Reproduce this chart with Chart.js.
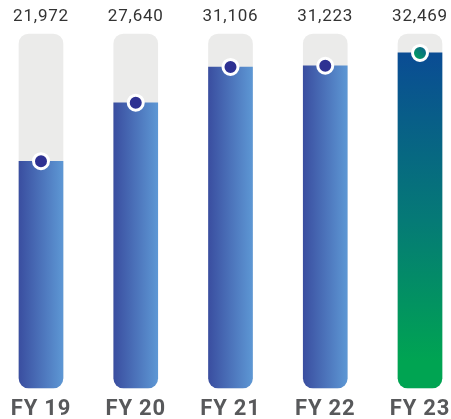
<!DOCTYPE html>
<html>
<head>
<meta charset="utf-8">
<script src="https://cdn.jsdelivr.net/npm/chart.js@4/dist/chart.umd.min.js"></script>
<style>
  html, body { margin: 0; padding: 0; background: #ffffff; }
  #wrap { width: 451px; height: 419px; }
</style>
</head>
<body>
<div id="wrap"><canvas id="c" width="451" height="419"></canvas></div>
<script>
const categories = ['FY 19', 'FY 20', 'FY 21', 'FY 22', 'FY 23'];
const values = [21972, 27640, 31106, 31223, 32469];
const valueLabels = ['21,972', '27,640', '31,106', '31,223', '32,469'];
const trackMax = 34300;
const trackValues = categories.map(() => trackMax);

function ok() { for (const a of arguments) { if (!Number.isFinite(a)) return false; } return true; }

function barColor(ctx) {
  const chart = ctx.chart;
  const c = chart.ctx;
  const xs = chart.scales.x;
  const ys = chart.scales.y;
  const i = ctx.dataIndex;
  if (!xs || !ys || i === undefined) return '#4a72bb';
  const cx = xs.getPixelForValue(i);
  if (i === values.length - 1) {
    const top = ys.getPixelForValue(values[i]);
    const bottom = ys.getPixelForValue(0);
    if (!ok(top, bottom) || top === bottom) return '#057a76';
    const g = c.createLinearGradient(0, top, 0, bottom);
    g.addColorStop(0, '#0a4c94');
    g.addColorStop(0.5, '#057a76');
    g.addColorStop(0.92, '#00a452');
    g.addColorStop(1, '#00a452');
    return g;
  }
  if (!ok(cx)) return '#4a72bb';
  const g = c.createLinearGradient(cx - 22, 0, cx + 22, 0);
  g.addColorStop(0, '#3a4ea0');
  g.addColorStop(1, '#5d97d4');
  return g;
}

function dotColor(ctx) {
  const chart = ctx.chart;
  const i = ctx.dataIndex;
  if (i === values.length - 1) {
    if (!chart.scales.x || !chart.scales.y) return '#057a76';
    const cx = chart.scales.x.getPixelForValue(i);
    const cy = chart.scales.y.getPixelForValue(values[i]);
    if (!ok(cx, cy)) return '#057a76';
    const g = chart.ctx.createLinearGradient(cx - 6, cy + 6, cx + 6, cy - 6);
    g.addColorStop(0, '#00a45a');
    g.addColorStop(1, '#0b5f8e');
    return g;
  }
  return '#2e3192';
}

const spacingPlugin = {
  id: 'spacing',
  beforeInit(chart) { if ('letterSpacing' in chart.ctx) chart.ctx.letterSpacing = '0.8px'; },
  beforeDraw(chart) { if ('letterSpacing' in chart.ctx) chart.ctx.letterSpacing = '0.8px'; }
};

new Chart(document.getElementById('c'), {
  plugins: [spacingPlugin],
  data: {
    labels: categories,
    datasets: [
      {
        type: 'line',
        data: values,
        showLine: false,
        pointRadius: 7.5,
        pointHoverRadius: 7.5,
        pointBorderWidth: 3,
        pointBorderColor: '#ffffff',
        pointBackgroundColor: dotColor,
        clip: false,
        order: 0
      },
      {
        type: 'bar',
        data: values,
        backgroundColor: barColor,
        borderRadius: { topLeft: 0, topRight: 0, bottomLeft: 10, bottomRight: 10 },
        borderSkipped: false,
        barThickness: 44,
        grouped: false,
        clip: false,
        order: 1
      },
      {
        type: 'bar',
        data: trackValues,
        backgroundColor: '#ebebea',
        borderRadius: 10,
        borderSkipped: false,
        barThickness: 44,
        grouped: false,
        clip: false,
        order: 2
      }
    ]
  },
  options: {
    responsive: false,
    animation: false,
    events: [],
    layout: { padding: { left: 41, right: 31, top: 0, bottom: 0 } },
    plugins: { legend: { display: false }, tooltip: { enabled: false } },
    scales: {
      x: {
        type: 'category',
        position: 'bottom',
        offset: false,
        grid: { display: false, drawTicks: false },
        border: { display: false },
        ticks: {
          padding: 8,
          color: '#58595b',
          font: { family: 'Roboto', size: 22, weight: 'bold' },
          maxRotation: 0,
          autoSkip: false
        },
        afterFit: (s) => { s.height = 31; s.paddingLeft = 0; s.paddingRight = 0; }
      },
      x2: {
        type: 'category',
        position: 'top',
        labels: valueLabels,
        offset: false,
        grid: { display: false, drawTicks: false },
        border: { display: false },
        ticks: {
          padding: 7,
          color: '#333333',
          font: { family: 'Roboto', size: 17, weight: 'normal' },
          maxRotation: 0,
          autoSkip: false
        },
        afterFit: (s) => { s.height = 34; s.paddingLeft = 0; s.paddingRight = 0; }
      },
      y: {
        display: false,
        min: 0,
        max: trackMax
      }
    }
  }
});
</script>
</body>
</html>
